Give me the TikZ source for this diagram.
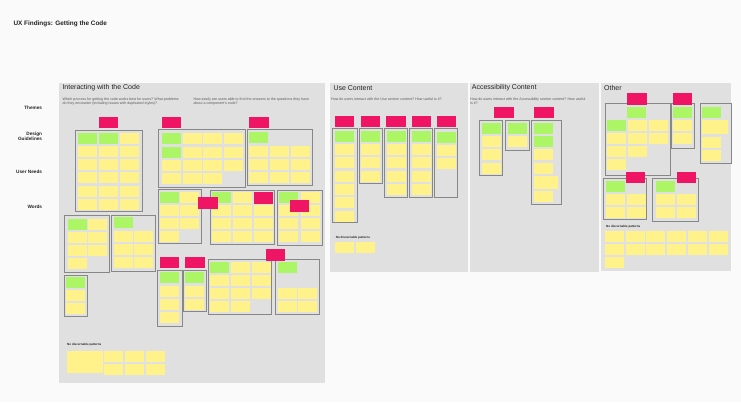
\documentclass[tikz,border=0pt]{standalone}
\usepackage{fontspec}
\setmainfont{Liberation Sans}
\definecolor{pagebg}{RGB}{250,250,250}
\definecolor{panelc}{RGB}{224,224,224}
\definecolor{yelc}{RGB}{255,242,138}
\definecolor{grnc}{RGB}{172,245,100}
\definecolor{pnkc}{RGB}{240,20,100}
\definecolor{boxc}{RGB}{135,135,135}
\definecolor{inkc}{RGB}{35,35,35}
\definecolor{subc}{RGB}{90,90,90}
\tikzset{
  panelbg/.style={fill=panelc},
  stickyY/.style={fill=yelc},
  stickyG/.style={fill=grnc},
  stickyP/.style={fill=pnkc},
  clbox/.style={draw=boxc,line width=0.8pt},
  maintitle/.style={inner sep=0pt,anchor=west,text=inkc,font=\bfseries\fontsize{6.4}{7.5}\selectfont},
  sectitle/.style={inner sep=0pt,anchor=west,text=inkc,font=\fontsize{7}{8}\selectfont},
  subtxt/.style={inner sep=0pt,anchor=north west,align=left,text=subc,font=\fontsize{3.6}{4.4}\selectfont},
  rowlbl/.style={inner sep=0pt,anchor=east,align=right,text=inkc,font=\bfseries\fontsize{4.7}{5.7}\selectfont},
  ndp/.style={inner sep=0pt,anchor=west,text=inkc,font=\bfseries\fontsize{3}{3.6}\selectfont}
}
\newcommand\stY[2]{\fill[stickyY] (#1,#2) rectangle ++(19,11);}
\newcommand\stG[2]{\fill[stickyG] (#1,#2) rectangle ++(19,11);}
\newcommand\stP[2]{\fill[stickyP] (#1,#2) rectangle ++(19.3,11.5);}
\newcommand\clB[4]{\draw[clbox] (#1,#2) rectangle (#3,#4);}
\begin{document}
\begin{tikzpicture}[x=1pt,y=-1pt]
\fill[pagebg] (0,0) rectangle (741,402);
\useasboundingbox (0,0) rectangle (741,402);

% title
\node[maintitle] (title) at (13.3,24) {UX Findings: Getting the Code};

% row labels
\node[rowlbl] (lthemes) at (42.3,107.7) {Themes};
\node[rowlbl] (ldesign) at (42.3,136.2) {Design\\Guidelines};
\node[rowlbl] (lneeds) at (42.3,172.3) {User Needs};
\node[rowlbl] (lwords) at (42.3,207.3) {Words};

% panels
\fill[panelbg] (59,83) rectangle (325,383);
\fill[panelbg] (330,83) rectangle (468,272);
\fill[panelbg] (470,83) rectangle (599,272);
\fill[panelbg] (601,83) rectangle (731,271);

\node[sectitle] (s1) at (62.3,88) {Interacting with the Code};
\node[sectitle] (s2) at (333.3,88) {Use Content};
\node[sectitle] (s3) at (471.7,88) {Accessibility Content};
\node[sectitle] (s4) at (604,88) {Other};

\node[subtxt] (q1) at (62.3,97.2) {Which process for getting the code works best for users? What problems\\do they encounter (including issues with duplicated styles)?};
\node[subtxt] (q2) at (193.3,97.2) {How easily are users able to find the answers to the questions they have\\about a component's code?};
\node[subtxt] (q3) at (331,97.2) {How do users interact with the Use section content? How useful is it?};
\node[subtxt] (q4) at (470,97.2) {How do users interact with the Accessibility section content? How useful\\is it?};

% ===== Section 1 =====
% cluster A
\clB{75}{130}{142.7}{211.7}
\foreach \y in {132.7,145.9,159.1,172.3,185.5,198.7} \foreach \x in {78.3,99,119.7} {\stY{\x}{\y}}
\stG{78.3}{132.7}\stG{99}{132.7}
% cluster B
\clB{158.3}{129.3}{245.7}{187.3}
\foreach \y in {133.3,146.7,160} \foreach \x in {161.7,182.5,203.3,224} {\stY{\x}{\y}}
\foreach \x in {161.7,182.5,203.3} {\stY{\x}{173.3}}
\stG{161.7}{133.3}\stG{161.7}{146.7}
% cluster C
\clB{247.3}{129.3}{312.3}{185}
\stG{249.3}{132.3}
\foreach \y in {145.7,158.7,171.7} \foreach \x in {249.3,270,291} {\stY{\x}{\y}}
% cluster D
\clB{158}{189.3}{201.7}{243.3}
\foreach \y in {191.7,204.7,217.7} \foreach \x in {159.5,180} {\stY{\x}{\y}}
\stY{159.5}{231}
\stG{159.5}{191.7}
% cluster E
\clB{210}{190}{274}{244.3}
\foreach \y in {192.3,205.3,218.3,231.3} \foreach \x in {211.7,232.7,253.7} {\stY{\x}{\y}}
\stG{211.7}{192.3}
% cluster F
\clB{277.3}{190}{322}{245.3}
\foreach \y in {192.3,205.3,218.3,231.3} \foreach \x in {279.3,300.7} {\stY{\x}{\y}}
\stG{279.3}{192.3}
% cluster G
\clB{64.3}{215}{109.3}{272.7}
\foreach \y in {219,232,245} \foreach \x in {67.7,88.3} {\stY{\x}{\y}}
\stY{67.7}{258.3}
\stG{67.7}{219}
% cluster H
\clB{111.7}{215}{155.7}{271}
\stG{113.7}{217.3}
\foreach \y in {231,244,257} \foreach \x in {113.7,134.3} {\stY{\x}{\y}}
% cluster I
\clB{64.3}{275}{87.7}{316.7}
\stG{66.3}{276.7}\stY{66.3}{289.5}\stY{66.3}{302.5}
% cluster J
\clB{157.7}{270}{182}{326}
\stG{160.3}{272.3}\stY{160.3}{285.5}\stY{160.3}{298.5}\stY{160.3}{311.5}
% cluster K
\clB{183.3}{270}{206}{311.7}
\stG{185.3}{272.3}\stY{185.3}{285.5}\stY{185.3}{298.5}
% cluster L
\clB{208.3}{259.3}{271.7}{314}
\foreach \y in {262.3,275.3,288.3} \foreach \x in {210.3,231,251.7} {\stY{\x}{\y}}
\stY{210.3}{301.3}\stY{231}{301.3}
\stG{210.3}{262.3}
% cluster M
\clB{275.7}{259.3}{319.3}{314}
\stG{277.7}{262.3}
\foreach \y in {288.3,301.3} \foreach \x in {277.7,298.3} {\stY{\x}{\y}}
% pink headers section 1
\stP{99}{116.7}\stP{161.7}{116.7}\stP{249.3}{116.7}
\stP{198.3}{197.3}\stP{253.7}{192.3}\stP{290}{200}
\stP{160}{256.7}\stP{185.3}{256.7}\stP{265.7}{249}
% no discernable patterns 1
\node[ndp] (ndp1) at (67,344.7) {No discernable patterns};
\fill[stickyY] (67,351) rectangle (102.7,372.7);
\foreach \y in {351,364} \foreach \x in {104.3,125,145.7} {\stY{\x}{\y}}

% ===== Section 2 =====
\clB{332.3}{128.3}{357}{222.7}
\clB{359}{128.3}{382.7}{183.3}
\clB{384.3}{128.3}{407.7}{197.3}
\clB{409.3}{128.3}{432.3}{197.3}
\clB{434.3}{128.3}{457.7}{197.3}
\foreach \k in {1,...,6} {\stY{335}{130.7+13.3*\k}}
\stG{335}{130.7}
\foreach \k in {1,...,3} {\stY{361}{130.7+13.3*\k}}
\stG{361}{130.7}
\foreach \k in {1,...,4} {\stY{386.5}{130.7+13.3*\k}}
\stG{386.5}{130.7}
\foreach \k in {1,...,4} {\stY{411.7}{130.7+13.3*\k}}
\stG{411.7}{130.7}
\stG{436.7}{132}\stY{436.7}{145}\stY{436.7}{158}
\foreach \x in {335,361,386.3,411.7,436.7} {\stP{\x}{115.7}}
\node[ndp] (ndp2) at (335.7,237.7) {No discernable patterns};
\stY{335}{242.3}\stY{356}{242.3}

% ===== Section 3 =====
\clB{479}{120}{502.7}{175}
\clB{505}{120}{529}{150.7}
\clB{531}{120}{561.7}{204.3}
\stG{481.7}{122.7}\stY{481.7}{136}\stY{481.7}{149.3}\stY{481.7}{162.5}
\stG{507.7}{122.7}\stY{507.7}{136}
\stG{534.3}{122.7}\stG{534.3}{136}\stY{534.3}{149.3}\stY{534.3}{162.5}
\fill[stickyY] (534.3,175.7) rectangle ++(24,13.6);
\stY{534.3}{191}
\stP{494.3}{106.7}\stP{534.3}{106.7}

% ===== Section 4 =====
\clB{605}{103.3}{670}{175}
\clB{671.7}{103.3}{694.3}{148.3}
\clB{700}{103.3}{731}{163.3}
\clB{603.3}{178.3}{646.7}{219.3}
\clB{652.7}{178.3}{698.3}{221.7}
% O1
\stG{627.3}{107.3}
\foreach \y in {120,133} \foreach \x in {607.3,628,648.7} {\stY{\x}{\y}}
\stG{607.3}{120}
\stY{607.3}{146}\stY{628}{146}\stY{607.3}{159}
% O2
\stG{673.3}{107.3}\stY{673.3}{120}\stY{673.3}{133.3}
% O3
\stG{702.3}{107.3}
\fill[stickyY] (702.3,120) rectangle ++(25.4,14.3);
\stY{702.3}{137.3}\stY{702.3}{150}
% O4
\stG{605.7}{180.7}
\foreach \y in {194,207.3} \foreach \x in {605.7,626.7} {\stY{\x}{\y}}
% O5
\stG{656}{180.7}
\foreach \y in {194,207.3} \foreach \x in {656,676.7} {\stY{\x}{\y}}
\stP{627.3}{93.3}\stP{672.7}{93.3}\stP{626}{171.7}\stP{676.7}{171.7}
\node[ndp] (ndp4) at (606,226.7) {No discernable patterns};
\foreach \y in {230.7,244} \foreach \k in {0,...,5} {\stY{605+20.7*\k}{\y}}
\stY{605}{256.7}
\end{tikzpicture}
\end{document}
